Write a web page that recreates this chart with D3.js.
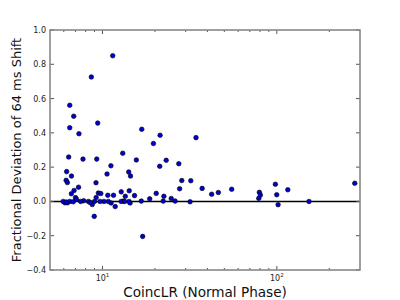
<!DOCTYPE html>
<html>
<head>
  <meta charset="UTF-8">
  <title>CoincLR scatter</title>
  <script src="https://d3js.org/d3.v7.min.js"></script>
  <style>
    body { margin: 0; background: #fff; }
    svg { display: block; font-family: "DejaVu Sans", sans-serif; }
    .tick-label { font-size: 8px; fill: #222; }
    .axis-label { font-size: 13px; fill: #111; }
  </style>
</head>
<body>
  <svg id="chart" width="400" height="300"></svg>

  <script>
    // CoincLR values (x, log axis)
    var coincLR = [
      11.45, 8.63, 6.49, 6.84, 6.49, 9.39, 7.33, 16.8, 21.4, 19.6,
      34.4, 6.40, 7.73, 9.27, 13.07, 15.64, 23.2, 27.4, 11.18, 21.3,
      6.23, 6.64, 10.62, 14.14, 14.48, 6.19, 6.29, 9.18, 28.5, 32.1,
      37.3, 27.7, 6.87, 7.29, 6.63, 9.47, 9.78, 12.81, 14.24, 20.34,
      10.73, 11.57, 13.52, 15.27, 22.5, 24.8, 42.3, 46.2, 18.66, 9.2,
      8.74, 11.83, 8.97, 17.0, 55.1, 79.4, 80.5, 78.8, 98.1, 99.9,
      101.7, 115.6, 153, 280, 7.0, 7.1, 7.8, 11.2, 16.7, 22.3,
      26.1, 31.8, 14.4, 13.2, 14.2, 6.09, 6.3, 5.95, 6.2, 6.5,
      6.8, 7.5, 8.3, 8.5, 10.2, 10.8, 9.0, 9.68, 12.8, 13.4
    ];
    // fractional deviation (y)
    var deviation = [
      0.850, 0.726, 0.561, 0.497, 0.430, 0.457, 0.395, 0.421, 0.386, 0.338,
      0.372, 0.259, 0.247, 0.247, 0.281, 0.242, 0.240, 0.220, 0.208, 0.205,
      0.174, 0.148, 0.160, 0.172, 0.148, 0.123, 0.110, 0.109, 0.122, 0.121,
      0.076, 0.074, 0.064, 0.083, 0.045, 0.049, 0.046, 0.056, 0.062, 0.047,
      0.036, 0.036, 0.030, 0.034, 0.030, 0.017, 0.042, 0.052, 0.015, 0.023,
      -0.018, -0.030, -0.087, -0.204, 0.071, 0.053, 0.037, 0.018, 0.100, 0.039,
      -0.019, 0.068, 0.000, 0.106, 0.022, 0.013, 0.004, -0.009, 0.002, 0.002,
      0.002, -0.002, -0.009, 0.002, 0.000, -0.008, -0.008, 0.000, -0.003, 0.000,
      -0.002, 0.000, 0.000, -0.006, 0.000, 0.000, 0.000, 0.000, 0.000, 0.000
    ];

    var yTicks = [-0.4, -0.2, 0.0, 0.2, 0.4, 0.6, 0.8, 1.0];
    var xMajorTicks = [10, 100];
    var xMinorTicks = [6, 7, 8, 9, 20, 30, 40, 50, 60, 70, 80, 90, 200];
    var xLabel = "CoincLR (Normal Phase)";
    var yLabel = "Fractional Deviation of 64 ms Shift";

    var plotLeft = 50, plotRight = 360, plotTop = 30, plotBottom = 270;

    var x = d3.scaleLog().domain([5, 300]).range([plotLeft, plotRight]);
    var y = d3.scaleLinear().domain([-0.4, 1.0]).range([plotBottom, plotTop]);

    var svg = d3.select("#chart");

    var data = coincLR.map(function(v, i) { return { x: v, y: deviation[i] }; });

    // zero line
    svg.append("line")
       .attr("x1", plotLeft).attr("x2", plotRight)
       .attr("y1", y(0)).attr("y2", y(0))
       .attr("stroke", "#000")
       .attr("stroke-width", 1.5);

    // points
    svg.selectAll("circle")
       .data(data)
       .enter()
       .append("circle")
       .attr("cx", function(d) { return x(d.x); })
       .attr("cy", function(d) { return y(d.y); })
       .attr("r", 2.3)
       .attr("fill", "#0000d0")
       .attr("stroke", "#000")
       .attr("stroke-width", 0.6);

    // ticks (inward, on all four sides)
    var tickColor = "#555";
    yTicks.forEach(function(t) {
      svg.append("line").attr("x1", plotLeft).attr("x2", plotLeft + 4)
         .attr("y1", y(t)).attr("y2", y(t)).attr("stroke", tickColor);
      svg.append("line").attr("x1", plotRight).attr("x2", plotRight - 4)
         .attr("y1", y(t)).attr("y2", y(t)).attr("stroke", tickColor);
      svg.append("text").attr("class", "tick-label")
         .attr("x", plotLeft - 4).attr("y", y(t) + 3)
         .attr("text-anchor", "end")
         .text(d3.format(".1f")(t));
    });

    xMinorTicks.forEach(function(t) {
      svg.append("line").attr("x1", x(t)).attr("x2", x(t))
         .attr("y1", plotBottom).attr("y2", plotBottom - 2).attr("stroke", tickColor);
      svg.append("line").attr("x1", x(t)).attr("x2", x(t))
         .attr("y1", plotTop).attr("y2", plotTop + 2).attr("stroke", tickColor);
    });

    xMajorTicks.forEach(function(t) {
      svg.append("line").attr("x1", x(t)).attr("x2", x(t))
         .attr("y1", plotBottom).attr("y2", plotBottom - 4).attr("stroke", tickColor);
      svg.append("line").attr("x1", x(t)).attr("x2", x(t))
         .attr("y1", plotTop).attr("y2", plotTop + 4).attr("stroke", tickColor);
      var lbl = svg.append("text").attr("class", "tick-label")
         .attr("x", x(t)).attr("y", 281)
         .attr("text-anchor", "middle");
      lbl.append("tspan").text("10");
      lbl.append("tspan").attr("dy", -4).attr("font-size", "5.5px")
         .text(Math.round(Math.log10(t)));
    });

    // frame
    svg.append("rect")
       .attr("x", plotLeft).attr("y", plotTop)
       .attr("width", plotRight - plotLeft).attr("height", plotBottom - plotTop)
       .attr("fill", "none")
       .attr("stroke", "#888")
       .attr("stroke-width", 1.6);

    // axis labels
    svg.append("text").attr("class", "axis-label")
       .attr("x", (plotLeft + plotRight) / 2).attr("y", 297)
       .attr("text-anchor", "middle")
       .style("font-size", "13.6px")
       .text(xLabel);

    svg.append("text").attr("class", "axis-label")
       .attr("transform", "translate(21," + ((plotTop + plotBottom) / 2) + ") rotate(-90)")
       .attr("text-anchor", "middle")
       .text(yLabel);
  </script>
</body>
</html>
